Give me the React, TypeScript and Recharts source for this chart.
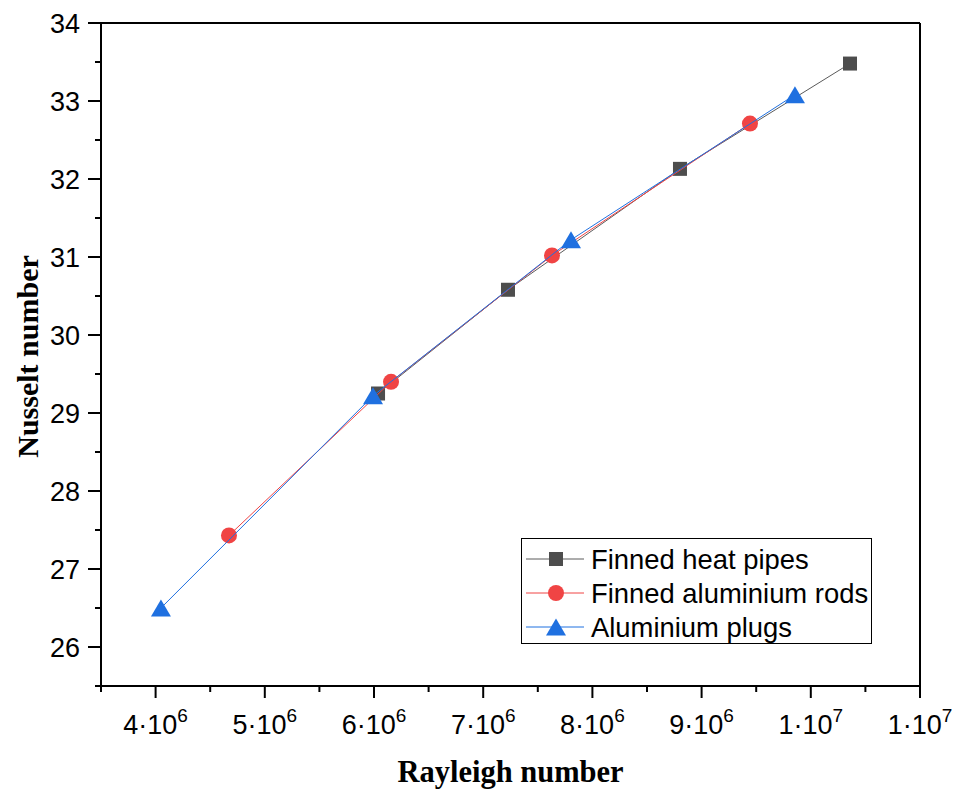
import React from 'react';
import { ScatterChart, Scatter, XAxis, YAxis, ReferenceLine, Legend, Label } from 'recharts';

// Rayleigh (x) and Nusselt (y) numbers for each configuration
const heatPipeRa = [6.037e6, 7.227e6, 8.802e6, 10.359e6];
const heatPipeNu = [29.25, 30.58, 32.13, 33.48];
const rodRa = [4.672e6, 6.156e6, 7.63e6, 9.443e6];
const rodNu = [27.43, 29.4, 31.02, 32.71];
const plugRa = [4.049e6, 5.991e6, 7.804e6, 9.855e6];
const plugNu = [26.5, 29.22, 31.22, 33.08];

const seriesNames = ['Finned heat pipes', 'Finned aluminium rods', 'Aluminium plugs'];

// Axis ticks
const xMajorTicks = [4e6, 5e6, 6e6, 7e6, 8e6, 9e6, 1e7, 1.1e7];
const xTickMantissas = ['4', '5', '6', '7', '8', '9', '1', '1'];
const xTickExponents = ['6', '6', '6', '6', '6', '6', '7', '7'];
const xMinorTicks = [3.5e6, 4.5e6, 5.5e6, 6.5e6, 7.5e6, 8.5e6, 9.5e6, 1.05e7];
const yMajorTicks = [26, 27, 28, 29, 30, 31, 32, 33, 34];
const yMinorTicks = [25.5, 26.5, 27.5, 28.5, 29.5, 30.5, 31.5, 32.5, 33.5];

const xDomain = [3.5e6, 1.1e7];
const yDomain = [25.5, 34];

const toPoints = (xs: number[], ys: number[]) => xs.map((x, i) => ({ ra: x, nu: ys[i] }));
const heatPipeData = toPoints(heatPipeRa, heatPipeNu);
const rodData = toPoints(rodRa, rodNu);
const plugData = toPoints(plugRa, plugNu);

const SANS = '"Liberation Sans", Arial, sans-serif';
const SERIF = '"Liberation Serif", "Times New Roman", serif';

const COLORS = {
  pipeFill: '#4d4d4d',
  pipeLine: '#5a5a5a',
  rod: '#f04444',
  plug: '#1f70e0',
};

const squareMark = (cx: number, cy: number, key?: string) => (
  <rect key={key} x={cx - 7} y={cy - 7} width={14} height={14} fill={COLORS.pipeFill} />
);
const circleMark = (cx: number, cy: number, key?: string) => (
  <circle key={key} cx={cx} cy={cy} r={8} fill={COLORS.rod} />
);
const triangleMark = (cx: number, cy: number, key?: string) => (
  <polygon
    key={key}
    points={`${cx},${cy - 8.5} ${cx - 10},${cy + 8.5} ${cx + 10},${cy + 8.5}`}
    fill={COLORS.plug}
  />
);

const SquareShape = (p: any) => squareMark(p.cx, p.cy);
const CircleShape = (p: any) => circleMark(p.cx, p.cy);
const TriangleShape = (p: any) => triangleMark(p.cx, p.cy);

const XTick = (props: any) => {
  const { x, y, payload } = props;
  const idx = xMajorTicks.indexOf(payload.value);
  const major = idx >= 0;
  return (
    <g>
      <line x1={x} y1={y} x2={x} y2={y + (major ? 12 : 6)} stroke="#000" strokeWidth={2} />
      {major && (
        <text x={x} y={y + 48} textAnchor="middle" fontFamily={SANS} fontSize={27} fill="#000">
          {xTickMantissas[idx]}·10
          <tspan dy={-12} fontSize={19}>{xTickExponents[idx]}</tspan>
        </text>
      )}
    </g>
  );
};

const YTick = (props: any) => {
  const { x, y, payload } = props;
  const major = yMajorTicks.indexOf(payload.value) >= 0;
  return (
    <g>
      <line x1={x} y1={y} x2={x - (major ? 13 : 6)} y2={y} stroke="#000" strokeWidth={2} />
      {major && (
        <text x={x - 21} y={y + 10} textAnchor="end" fontFamily={SANS} fontSize={27} fill="#000">
          {payload.value}
        </text>
      )}
    </g>
  );
};

const legendMarks = [squareMark, circleMark, triangleMark];
const legendLines = [COLORS.pipeLine, COLORS.rod, COLORS.plug];
const legendRows = [21, 55, 89];

const LegendBox = () => (
  <svg width={351} height={106} style={{ display: 'block' }}>
    <rect x={0.5} y={0.5} width={350} height={105} fill="#fff" stroke="#000" strokeWidth={1} />
    {seriesNames.map((name, i) => (
      <g key={name}>
        <line x1={5} y1={legendRows[i]} x2={63} y2={legendRows[i]} stroke={legendLines[i]} strokeWidth={1} />
        {legendMarks[i](35, legendRows[i])}
        <text x={70} y={legendRows[i] + 10} fontFamily={SANS} fontSize={27.4} fill="#000">
          {name}
        </text>
      </g>
    ))}
  </svg>
);

export default function App() {
  return (
    <div style={{ position: 'absolute', left: 0, top: 0, width: 955, height: 794, background: '#fff' }}>
      <ScatterChart width={955} height={794} margin={{ top: 23, right: 35, left: 21, bottom: 48 }}>
        <XAxis
          type="number"
          dataKey="ra"
          domain={xDomain}
          ticks={[...xMinorTicks, ...xMajorTicks].sort((a, b) => a - b)}
          tick={<XTick />}
          tickLine={false}
          tickSize={0}
          tickMargin={0}
          interval={0}
          height={60}
          axisLine={{ stroke: '#000', strokeWidth: 2 }}
          allowDataOverflow
        >
          <Label
            content={(p: any) => {
              const vb = p.viewBox;
              return (
                <text
                  x={vb.x + vb.width / 2}
                  y={vb.y + 96}
                  textAnchor="middle"
                  fontFamily={SERIF}
                  fontWeight="bold"
                  fontSize={30.5}
                  fill="#000"
                >
                  Rayleigh number
                </text>
              );
            }}
          />
        </XAxis>
        <YAxis
          type="number"
          dataKey="nu"
          domain={yDomain}
          ticks={[...yMinorTicks, ...yMajorTicks].sort((a, b) => a - b)}
          tick={<YTick />}
          tickLine={false}
          tickSize={0}
          tickMargin={0}
          interval={0}
          width={80}
          axisLine={{ stroke: '#000', strokeWidth: 2 }}
          allowDataOverflow
        >
          <Label
            content={(p: any) => {
              const vb = p.viewBox;
              const cy = vb.y + vb.height / 2 + 2;
              return (
                <text
                  x={38}
                  y={cy}
                  transform={`rotate(-90, 38, ${cy})`}
                  textAnchor="middle"
                  fontFamily={SERIF}
                  fontWeight="bold"
                  fontSize={30}
                  fill="#000"
                >
                  Nusselt number
                </text>
              );
            }}
          />
        </YAxis>
        <ReferenceLine y={34} stroke="#000" strokeWidth={2} />
        <ReferenceLine x={1.1e7} stroke="#000" strokeWidth={2} />
        <Legend
          layout="horizontal"
          verticalAlign="middle"
          align="center"
          wrapperStyle={{ left: 521, top: 538, width: 351, height: 106 }}
          content={() => <LegendBox />}
        />
        <Scatter
          name={seriesNames[0]}
          data={heatPipeData}
          line={{ stroke: COLORS.pipeLine, strokeWidth: 1 }}
          shape={SquareShape}
          isAnimationActive={false}
        />
        <Scatter
          name={seriesNames[1]}
          data={rodData}
          line={{ stroke: COLORS.rod, strokeWidth: 1 }}
          shape={CircleShape}
          isAnimationActive={false}
        />
        <Scatter
          name={seriesNames[2]}
          data={plugData}
          line={{ stroke: COLORS.plug, strokeWidth: 1 }}
          shape={TriangleShape}
          isAnimationActive={false}
        />
      </ScatterChart>
    </div>
  );
}
